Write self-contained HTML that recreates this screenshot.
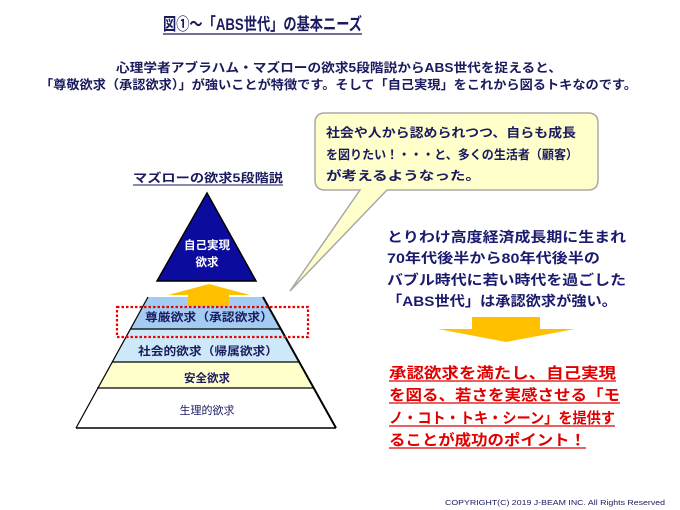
<!DOCTYPE html>
<html><head><meta charset="utf-8"><style>
html,body{margin:0;padding:0;background:#fff;}
svg{display:block;}
text{font-family:"Liberation Sans","Noto Sans CJK JP",sans-serif;font-weight:bold;}
</style></head><body>
<svg width="680" height="510" viewBox="0 0 680 510" xmlns="http://www.w3.org/2000/svg">
<rect width="680" height="510" fill="#fff"/>
<text x="163" y="30" font-size="17" fill="#1a1a5e" textLength="199" lengthAdjust="spacingAndGlyphs">図①～「ABS世代」の基本ニーズ</text>
<line x1="163" y1="34" x2="362" y2="34" stroke="#1a1a5e" stroke-width="1.3"/>
<text x="116" y="72" font-size="12.5" fill="#1a1a5e" textLength="446" lengthAdjust="spacingAndGlyphs">心理学者アブラハム・マズローの欲求5段階説からABS世代を捉えると、</text>
<text x="40" y="89" font-size="12.5" fill="#1a1a5e" textLength="597" lengthAdjust="spacingAndGlyphs">「尊敬欲求（承認欲求）」が強いことが特徴です。そして「自己実現」をこれから図るトキなのです。</text>

<text x="133" y="182" font-size="12" fill="#1a1a5e" textLength="150" lengthAdjust="spacingAndGlyphs">マズローの欲求5段階説</text>
<line x1="133" y1="185" x2="283" y2="185" stroke="#1a1a5e" stroke-width="1"/>

<polygon points="207,193 157,281 256,281" fill="#0b0b9e" stroke="#000" stroke-width="1.5"/>
<text x="207" y="249" font-size="11.5" fill="#fff" text-anchor="middle">自己実現</text>
<text x="207" y="266" font-size="11.5" fill="#fff" text-anchor="middle">欲求</text>

<polygon points="148,297 263,297 281,329 130,329" fill="#a4ccf2"/>
<polygon points="130,329 281,329 299,362 112,362" fill="#cde9f9"/>
<polygon points="112,362 299,362 314,388 97,388" fill="#ffffcc"/>
<polygon points="97,388 314,388 336,428 76,428" fill="#fff"/>
<line x1="130" y1="329" x2="281" y2="329" stroke="#000" stroke-width="1.2"/>
<line x1="112" y1="362" x2="299" y2="362" stroke="#000" stroke-width="1.2"/>
<line x1="97" y1="388" x2="314" y2="388" stroke="#000" stroke-width="1.2"/>
<line x1="76" y1="428" x2="336" y2="428" stroke="#000" stroke-width="1.5"/>
<line x1="148" y1="297" x2="76" y2="428" stroke="#000" stroke-width="1.2"/>
<line x1="263" y1="297" x2="336" y2="428" stroke="#000" stroke-width="2"/>

<polygon points="209,284 250,295 229,295 229,306 188,306 188,295 168,295" fill="#ffc000"/>

<text x="209" y="321" font-size="11.5" fill="#1a1a5e" text-anchor="middle" textLength="128" lengthAdjust="spacingAndGlyphs">尊厳欲求（承認欲求）</text>
<text x="208" y="355" font-size="11.5" fill="#1a1a5e" text-anchor="middle" textLength="140" lengthAdjust="spacingAndGlyphs">社会的欲求（帰属欲求）</text>
<text x="207" y="382" font-size="11.5" fill="#1a1a5e" text-anchor="middle">安全欲求</text>
<text x="207" y="414" font-size="11" fill="#1a1a5e" text-anchor="middle" style="font-weight:normal">生理的欲求</text>

<rect x="117" y="307" width="191" height="30" fill="none" stroke="#e00" stroke-width="2.2" stroke-dasharray="2.5,2"/>

<path d="M325,113 H588 Q598,113 598,123 V180 Q598,190 588,190 H387 L290,291 L360,190 H325 Q315,190 315,180 V123 Q315,113 325,113 Z" fill="#ffffcc" stroke="#a8a8a8" stroke-width="1.5"/>
<text x="326" y="137" font-size="12.5" fill="#1a1a5e" textLength="250" lengthAdjust="spacingAndGlyphs">社会や人から認められつつ、自らも成長</text>
<text x="326" y="159" font-size="12.5" fill="#1a1a5e" textLength="252" lengthAdjust="spacingAndGlyphs">を図りたい！・・・と、多くの生活者（顧客）</text>
<text x="326" y="180" font-size="12.5" fill="#1a1a5e" textLength="155" lengthAdjust="spacingAndGlyphs">が考えるようなった。</text>

<text x="387" y="242" font-size="14" fill="#1a1a6e" textLength="239" lengthAdjust="spacingAndGlyphs">とりわけ高度経済成長期に生まれ</text>
<text x="387" y="263" font-size="14" fill="#1a1a6e" textLength="213" lengthAdjust="spacingAndGlyphs">70年代後半から80年代後半の</text>
<text x="387" y="285" font-size="14" fill="#1a1a6e" textLength="239" lengthAdjust="spacingAndGlyphs">バブル時代に若い時代を過ごした</text>
<text x="387" y="306" font-size="14" fill="#1a1a6e" textLength="230" lengthAdjust="spacingAndGlyphs">「ABS世代」は承認欲求が強い。</text>

<polygon points="472,317 540,317 540,329 575,329 506,342 438,329 472,329" fill="#ffc000"/>

<g fill="#e00000" font-size="15">
<text x="389" y="378" textLength="227" lengthAdjust="spacingAndGlyphs">承認欲求を満たし、自己実現</text>
<text x="389" y="400" textLength="231" lengthAdjust="spacingAndGlyphs">を図る、若さを実感させる「モ</text>
<text x="389" y="423" textLength="226" lengthAdjust="spacingAndGlyphs">ノ・コト・トキ・シーン」を提供す</text>
<text x="389" y="445" textLength="197" lengthAdjust="spacingAndGlyphs">ることが成功のポイント！</text>
</g>
<g stroke="#e00000" stroke-width="1.3">
<line x1="389" y1="381" x2="616" y2="381"/>
<line x1="389" y1="403" x2="620" y2="403"/>
<line x1="389" y1="426" x2="615" y2="426"/>
<line x1="389" y1="448" x2="586" y2="448"/>
</g>

<text x="445" y="505" font-size="7" fill="#1a1a5e" style="font-weight:normal" textLength="220" lengthAdjust="spacingAndGlyphs">COPYRIGHT(C) 2019  J-BEAM  INC.  All Rights Reserved</text>
</svg>
</body></html>
